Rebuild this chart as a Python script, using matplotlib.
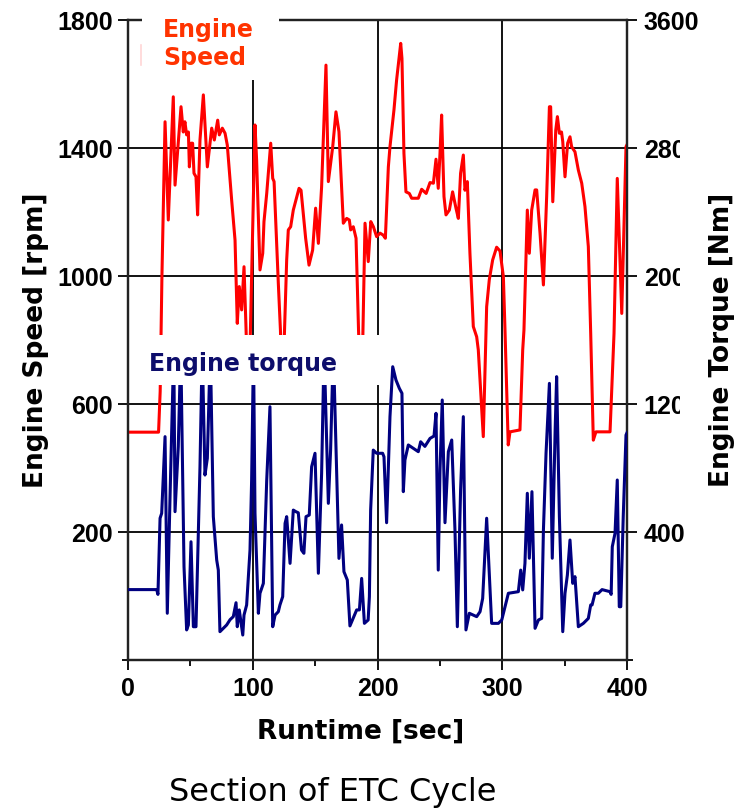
import matplotlib
matplotlib.use("Agg")
import matplotlib.pyplot as plt
from matplotlib.patches import Rectangle
from matplotlib.lines import Line2D
import numpy as np

# ---------------- data ----------------
speed_t = [0, 24.5, 25.8, 27.2, 29.7, 32.3, 36.3, 37.7, 42.5, 44.3, 45.6, 47.0, 48.4, 49.2,
           50.5, 51.8, 52.9, 54.5, 55.8, 57.7, 60.4, 63.6, 67.1, 69.2, 71.9, 73.2, 75.6,
           77.8, 79.6, 83.1, 85.8, 87.6, 89.2, 91.1, 93.0, 94.5, 95.5, 97.5, 99.1, 101.8,
           103.1, 105.8, 108.0, 109.0, 111.2, 114.4, 116.0, 117.1, 120.5, 122.2, 123.0,
           124.6, 126.0, 127.2, 128.5, 130.4, 132.5, 133.9, 137.1, 138.7, 142.4, 145.1,
           148.0, 150.4, 152.6, 155.2, 158.7, 160.6, 164.1, 166.7, 169.1, 172.6, 175.3,
           177.4, 178.5, 180.6, 182.8, 184.8, 185.8, 187.8, 190.0, 192.6, 194.6, 196.7,
           199.3, 202.0, 204.5, 206.3, 208.7, 210.0, 212.2, 213.2, 215.3, 218.6, 219.6,
           221.2, 222.8, 225.5, 227.4, 232.7, 235.4, 239.0, 242.1, 244.8, 246.9, 248.7,
           250.1, 251.4, 253.3, 254.9, 257.6, 260.2, 262.9, 264.8, 266.6, 268.8, 270.1,
           272.0, 274.1, 276.8, 279.5, 280.8, 284.8, 287.0, 287.5, 289.6, 292.3, 295.5,
           298.2, 300.9, 302.2, 304.8, 306.2, 314.2, 316.4, 317.4, 320.1, 321.7, 323.6,
           326.3, 327.6, 330.3, 333.0, 335.6, 337.8, 338.8, 340.5, 342.9, 344.2, 345.8,
           347.5, 348.5, 350.3, 352.4, 354.3, 355.6, 358.3, 361.0, 363.7, 366.3, 369.0,
           370.9, 373.0, 375.1, 386.4, 389.0, 389.6, 392.2, 395.8, 399.2, 400.0]
speed_rpm = [512, 512, 640, 1000, 1482, 1175, 1560, 1284, 1529, 1450, 1482, 1441, 1450, 1341,
             1415, 1415, 1321, 1310, 1191, 1425, 1566, 1341, 1462, 1425, 1487, 1441, 1462,
             1446, 1409, 1237, 1112, 852, 967, 894, 1029, 850, 720, 720, 998, 1472,
             1362, 1019, 1071, 1170, 1258, 1415, 1305, 1295, 977, 830, 720,
             720, 900, 1050, 1144, 1154, 1206, 1227, 1274, 1268, 1118, 1034,
             1081, 1212, 1102, 1279, 1659, 1295, 1404, 1513, 1451, 1165, 1180,
             1175, 1144, 1154, 1118, 830, 720, 720, 1165, 1045, 1170, 1154,
             1123, 1134, 1128, 1118, 1341, 1404, 1482, 1519, 1612, 1727, 1680,
             1383, 1263, 1258, 1243, 1243, 1271, 1258, 1292, 1290, 1365, 1274,
             1383, 1503, 1248, 1191, 1206, 1263, 1212, 1180, 1321, 1378, 1268,
             1295, 1071, 842, 810, 769, 498, 831, 904, 988, 1050, 1090,
             1078, 998, 831, 472, 513, 519, 769, 831, 1206, 1071, 1206,
             1269, 1269, 1133, 972, 1248, 1529, 1529, 1232, 1456, 1498, 1446,
             1450, 1420, 1310, 1415, 1435, 1404, 1388, 1331, 1290, 1217, 1092,
             821, 487, 513, 513, 769, 821, 1305, 883, 1404, 1410]

torque_t = [0, 23.0, 24.0, 25.7, 27.0, 29.7, 31.5, 33.7, 36.7, 37.7, 40.3, 42.3, 44.9, 47.0,
            48.4, 50.5, 52.4, 54.5, 56.4, 57.7, 59.5, 61.7, 63.6, 66.0, 68.4, 71.1, 72.4,
            73.7, 79.1, 81.8, 84.4, 86.6, 87.6, 89.2, 92.0, 93.0, 95.1, 97.8, 99.1, 100.6,
            101.8, 104.5, 105.8, 108.5, 111.2, 113.8, 116.0, 117.9, 120.5, 121.8, 124.0,
            125.9, 127.2, 129.9, 132.5, 134.6, 136.5, 139.1, 141.0, 142.7, 145.3, 147.2,
            149.9, 152.6, 155.2, 157.2, 160.6, 162.4, 164.6, 169.1, 171.2, 173.1, 175.8,
            177.9, 183.3, 185.5, 187.3, 189.5, 192.5, 193.5, 194.5, 196.6, 199.3, 204.1,
            205.2, 207.3, 210.0, 212.2, 214.8, 217.5, 219.6, 220.7, 222.0, 224.7, 232.7,
            234.6, 238.0, 240.0, 242.1, 245.3, 246.9, 248.7, 250.1, 251.9, 254.1, 256.8,
            259.5, 262.1, 264.0, 266.6, 268.8, 270.9, 273.6, 279.5, 282.2, 284.3, 287.5,
            289.6, 291.5, 296.9, 299.6, 302.2, 304.9, 312.9, 314.8, 316.4, 318.2, 320.1,
            321.7, 323.8, 326.3, 329.0, 331.6, 333.0, 335.1, 337.8, 340.1, 342.4, 343.6,
            345.8, 348.5, 350.3, 352.2, 354.3, 356.5, 358.3, 361.0, 365.0, 369.0, 370.9,
            372.0, 374.3, 377.0, 380.0, 386.4, 387.3, 388.2, 390.4, 392.2, 393.8, 395.0,
            397.0, 399.2, 400.0]
torque_nm = [40, 40, 10, 486, 517, 996, -108, 621, 1550, 527, 933, 1550, 183, -212,
             -181, 339, -192, -192, 412, 808, 1550, 756, 861, 1550, 496, 225, 162,
             -223, -181, -148, -129, -42, -192, -87, -244, -119, -56, 288, 725, 1550,
             517, -108, 17, 79, 725, 1183, -192, -119, -98, -56, -4,
             454, 496, 204, 537, 527, 520, 287, 267, 496, 506, 808,
             892, 142, 767, 1550, 579, 912, 1550, 235, 444, 152, 100,
             -187, -87, -87, 110, -171, -150, -4, 537, 912, 892, 892,
             870, 458, 1121, 1433, 1350, 1298, 1267, 652, 850, 944, 902,
             964, 935, 960, 985, 1000, 1142, 162, 787, 1225, 458, 902,
             975, 412, -192, 662, 1121, -212, -108, -129, -98, -15, 486,
             142, -171, -171, -150, -67, 17, 27, 162, 38, 204, 642,
             236, 652, -202, -150, -140, 412, 892, 1329, 236, 1037, 1371,
             496, -223, 17, 131, 350, 79, 121, -192, -171, -140, -56,
             -56, 17, 17, 40, 27, 10, 308, 392, 725, -67, -67,
             500, 1006, 1020]

x_major = [0, 100, 200, 300, 400]
speed_major = [200, 600, 1000, 1400, 1800]
torque_major = [400, 1200, 2000, 2800, 3600]

# ---------------- figure ----------------
W, H = 740, 809
fig = plt.figure(figsize=(W / 100, H / 100), dpi=100)

def fx(x):
    return x / W

def fy(y):
    return 1 - y / H

ax = fig.add_axes([fx(128), fy(660), fx(627) - fx(128), fy(20) - fy(660)])
ax2 = ax.twinx()

tick_font = dict(family="Liberation Sans", weight="bold", size=18)
label_font = dict(family="DejaVu Sans", weight="bold", size=19)

ax.set_xlim(0, 400)
ax.set_ylim(-200, 1800)
ax2.set_ylim(-400, 3600)

ax.set_xticks(x_major)
ax.set_xticks(np.arange(50, 400, 100), minor=True)
ax.set_yticks(speed_major)
ax.set_yticks(np.arange(-200, 1801, 400), minor=True)
ax2.set_yticks(torque_major)
ax2.set_yticks(np.arange(-400, 3601, 800), minor=True)

ax.set_xticklabels([str(v) for v in x_major], fontdict=tick_font)
ax.set_yticklabels([str(v) for v in speed_major], fontdict=tick_font)
ax2.set_yticklabels([str(v) for v in torque_major], fontdict=tick_font)

for a in (ax, ax2):
    a.tick_params(which="major", direction="out", length=7, width=1.3, pad=5, colors="black")
    a.tick_params(which="minor", direction="out", length=4, width=1.3, colors="black")
    for s in a.spines.values():
        s.set_linewidth(1.6)
        s.set_color("#222222")
ax.tick_params(axis="y", pad=4)

ax.grid(True, which="major", axis="both", color="black", linewidth=1.3)
ax.set_axisbelow(True)

ax.plot(speed_t, speed_rpm, color="#ff0000", linewidth=2.2, solid_joinstyle="round", zorder=3)
ax2.plot(torque_t, torque_nm, color="#000080", linewidth=2.2, solid_joinstyle="round", zorder=3)

ax.set_ylabel("Engine Speed [rpm]", fontdict=label_font, labelpad=6)
ax2.set_ylabel("Engine Torque [Nm]", fontdict=label_font, labelpad=7)

fig.text(fx(361), fy(739), "Runtime [sec]", fontdict=label_font, va="baseline", ha="center")

# white label boxes that hide part of the plot, as in the original
for (x0, y0, x1, y1) in [(142, 0, 279, 80), (140, 335, 384, 385), (680, 40, 703, 520)]:
    fig.add_artist(Rectangle((fx(x0), fy(y1)), fx(x1) - fx(x0), fy(y0) - fy(y1),
                             transform=fig.transFigure, facecolor="white",
                             edgecolor="none", zorder=5))

fig.add_artist(Line2D([fx(141), fx(141)], [fy(45), fy(65)], transform=fig.transFigure,
                      color="#ffd6d6", linewidth=1.2, zorder=6))

fig.text(fx(163), fy(37), "Engine", color="#ff3300", fontsize=17, fontweight="bold",
         family="DejaVu Sans", va="baseline", ha="left", zorder=7)
fig.text(fx(163), fy(65), "Speed", color="#ff3300", fontsize=17, fontweight="bold",
         family="DejaVu Sans", va="baseline", ha="left", zorder=7)
fig.text(fx(149), fy(371), "Engine torque", color="#0d0d6b", fontsize=17, fontweight="bold",
         family="DejaVu Sans", va="baseline", ha="left", zorder=7)

fig.text(fx(333), fy(801), "Section of ETC Cycle", color="black", fontsize=23,
         family="DejaVu Sans", va="baseline", ha="center")

fig.savefig("out.png", dpi=100)
